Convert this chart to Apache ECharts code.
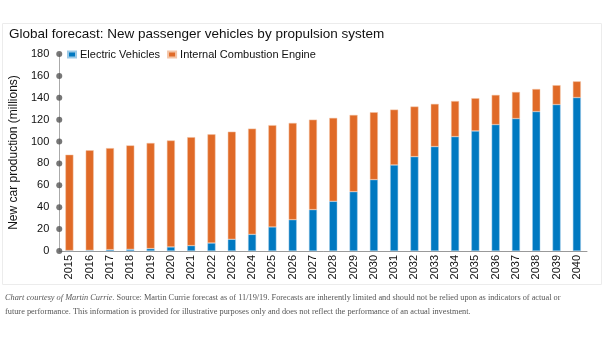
<!DOCTYPE html>
<html><head><meta charset="utf-8">
<script src="https://cdn.jsdelivr.net/npm/echarts@6/dist/echarts.min.js"></script>
<style>html,body{margin:0;padding:0;background:#fff}#c{width:605px;height:341px}</style>
</head><body><div id="c"></div>
<script>
const years = ['2015','2016','2017','2018','2019','2020','2021','2022','2023','2024','2025','2026','2027','2028','2029','2030','2031','2032','2033','2034','2035','2036','2037','2038','2039','2040'];
const electric = [0.4,0.6,1.2,1.5,2.2,3.7,4.9,7.3,10.7,15.2,22,28.6,37.8,45.4,54.2,65.2,78.6,86.2,95.4,104.5,109.7,115.5,121,127.4,133.8,140.2];
const combustion = [87.6,91.4,92.8,95,96.5,97.3,99.1,99.3,98.3,96.6,93,88.4,82.2,76.2,70.1,61.6,50.6,45.8,39,32.5,29.9,27.1,24.3,20.6,17.7,14.8];
const yTicks = [0,20,40,60,80,100,120,140,160,180];

const chart = echarts.init(document.getElementById('c'), null, {renderer:'canvas'});
chart.setOption({
  animation:false,
  graphic:[{type:'rect', shape:{x:2.5,y:23.5,width:599,height:261}, style:{fill:'none', stroke:'#ececec', lineWidth:1}, z:-1}],
  title:[
    {text:'Global forecast: New passenger vehicles by propulsion system', left:4, top:22,
     textStyle:{fontFamily:'Liberation Sans', fontSize:13.5, fontWeight:'normal', color:'#111'}},
    {text:'{i|Chart courtesy of Martin Currie.} Source: Martin Currie forecast as of 11/19/19. Forecasts are inherently limited and should not be relied upon as indicators of actual or\nfuture performance. This information is provided for illustrative purposes only and does not reflect the performance of an actual investment.',
     left:0, top:286,
     textStyle:{fontFamily:'Liberation Serif', fontSize:8.3, fontWeight:'normal', color:'#555', lineHeight:14,
       rich:{i:{fontFamily:'Liberation Serif', fontStyle:'italic', fontSize:8.3, color:'#555'}}}}
  ],
  legend:{left:62, top:44, itemWidth:8, itemHeight:6, itemGap:7, icon:'rect',
    textStyle:{fontFamily:'Liberation Sans', fontSize:11, color:'#111', padding:[0,0,0,-1]},
    data:['Electric Vehicles','Internal Combustion Engine']},
  grid:{left:57, right:18, top:54, bottom:90, containLabel:false},
  xAxis:[{type:'category', data:years,
    axisLine:{lineStyle:{color:'#999'}}, axisTick:{show:false},
    axisLabel:{rotate:90, fontFamily:'Liberation Sans', fontSize:11, color:'#111', margin:4}},
   {type:'value', min:0, max:1, show:false}],
  yAxis:{type:'value', min:0, max:180, interval:20,
    name:'New car production (millions)', nameLocation:'middle', nameGap:31,
    nameTextStyle:{fontFamily:'Liberation Sans', fontSize:12, color:'#111'},
    axisLine:{show:true, lineStyle:{color:'#aaa'}}, axisTick:{show:false}, splitLine:{show:false},
    axisLabel:{fontFamily:'Liberation Sans', fontSize:11, color:'#111', margin:10}},
  series:[
    {name:'Electric Vehicles', type:'bar', stack:'t', data:electric, barWidth:8,
     itemStyle:{color:'#0079c1', borderColor:'#9cc9e6', borderWidth:0.5}},
    {name:'Internal Combustion Engine', type:'bar', stack:'t', data:combustion, barWidth:8,
     itemStyle:{color:'#e06a27', borderColor:'#f3c4a6', borderWidth:0.5}},
    {type:'scatter', xAxisIndex:1, data:yTicks.map(v=>[0,v]), symbolSize:6, clip:false,
     itemStyle:{color:'#555'}, silent:true, legendHoverLink:false, z:5}
  ]
});
</script></body></html>
